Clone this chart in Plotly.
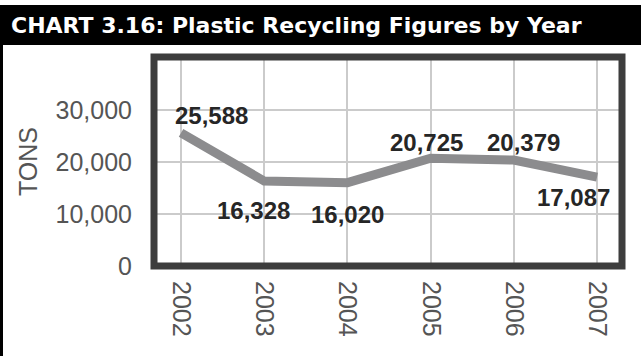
import plotly.graph_objects as go

# Plastic recycling tonnage by year
years = [2002, 2003, 2004, 2005, 2006, 2007]
tons = [25588, 16328, 16020, 20725, 20379, 17087]
y_ticks = [0, 10000, 20000, 30000]
y_tick_labels = ["0", "10,000", "20,000", "30,000"]

# value label offsets (px) from each point
label_dx = [30, -11, 0, -4, 10, -24]
label_dy = [17, -29, -32, 16, 18, -20]

W, H = 641, 356
ML, MR, MT, MB = 154, 19, 57, 90
PW, PH = W - ML - MR, H - MT - MB


def px_x(px):
    return (px - ML) / PW


def px_y(py):
    return (H - MB - py) / PH


fig = go.Figure()
fig.add_trace(go.Scatter(
    x=years, y=tons, mode="lines",
    line=dict(color="#8c8c8e", width=9),
    hoverinfo="skip", showlegend=False,
))

annotations = []
for yr, v, dx, dy in zip(years, tons, label_dx, label_dy):
    annotations.append(dict(
        x=yr, y=v, xref="x", yref="y", text=f"{v:,}", showarrow=False,
        xshift=dx, yshift=dy, xanchor="center", yanchor="middle",
        font=dict(family="Liberation Sans, Arial, sans-serif", size=24,
                  color="#262626", weight="bold"),
    ))

# header text
annotations.append(dict(
    x=px_x(9), y=px_y(25), xref="paper", yref="paper",
    text="<b>CHART 3.16: Plastic Recycling Figures by Year</b>",
    showarrow=False, xanchor="left", yanchor="middle",
    font=dict(family="DejaVu Sans, sans-serif", size=22, color="white"),
))

shapes = [
    # black header band
    dict(type="rect", xref="paper", yref="paper", layer="below",
         x0=px_x(0), x1=px_x(W), y0=px_y(45), y1=px_y(5),
         fillcolor="black", line=dict(width=0)),
    # left frame edge
    dict(type="rect", xref="paper", yref="paper", layer="below",
         x0=px_x(0), x1=px_x(3), y0=px_y(H), y1=px_y(45),
         fillcolor="black", line=dict(width=0)),
    # plot frame
    dict(type="rect", xref="paper", yref="paper", layer="above",
         x0=0, x1=1, y0=0, y1=1,
         line=dict(color="#3d3d3d", width=7)),
]

tick_font = dict(family="Liberation Sans, Arial, sans-serif", size=25, color="#555555")

fig.update_layout(
    width=W, height=H,
    margin=dict(l=ML, r=MR, t=MT, b=MB, autoexpand=False),
    paper_bgcolor="white", plot_bgcolor="white",
    annotations=annotations, shapes=shapes,
    xaxis=dict(
        range=[2001.675, 2007.30], tickmode="array", tickvals=years,
        ticktext=[str(y) for y in years], tickangle=90,
        showgrid=True, gridcolor="#cbcbcb", gridwidth=1.5,
        zeroline=False, showline=False, ticks="",
        tickfont=tick_font, ticklabelstandoff=14, automargin=False,
    ),
    yaxis=dict(
        range=[0, 40190], tickmode="array", tickvals=y_ticks,
        ticktext=y_tick_labels,
        showgrid=True, gridcolor="#cbcbcb", gridwidth=1.5,
        zeroline=False, showline=False, ticks="",
        tickfont=tick_font, ticklabelstandoff=21, automargin=False,
        title=dict(text="TONS", font=tick_font, standoff=10),
    ),
)

fig.write_html("out.html")
